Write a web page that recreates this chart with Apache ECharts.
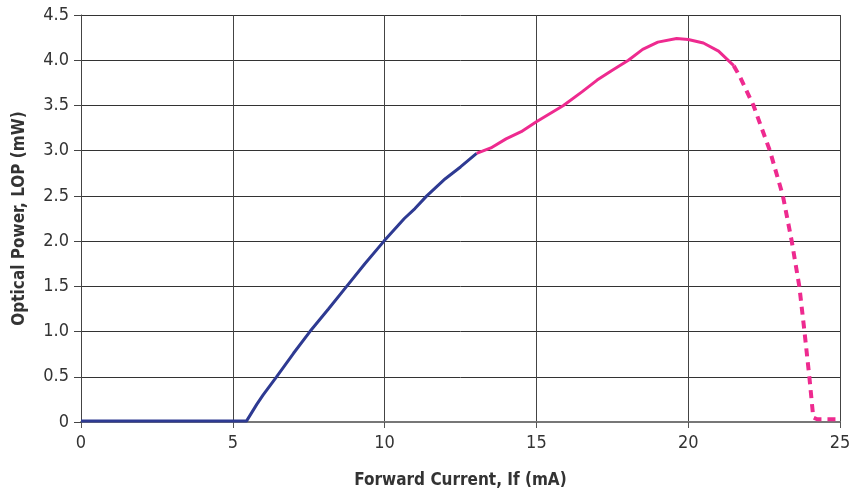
<!DOCTYPE html>
<html>
<head>
<meta charset="utf-8">
<script src="https://cdn.jsdelivr.net/npm/echarts@6/dist/echarts.min.js"></script>
<style>
  html, body { margin: 0; padding: 0; background: #fff; }
  #chart { width: 851px; height: 497px; }
</style>
</head>
<body>
<div id="chart"></div>
<script>
// data: [current mA, power mW]
const blueCurve = [
  [0, 0.01], [5.45, 0.01], [5.8, 0.2], [6.0, 0.3], [6.44, 0.5], [7.0, 0.76],
  [7.54, 1.0], [8.15, 1.25], [8.75, 1.5], [9.35, 1.75], [9.98, 2.0],
  [10.65, 2.25], [11.0, 2.36], [11.39, 2.5], [12.0, 2.69], [12.5, 2.82], [13.03, 2.97]
];
const pinkSolid = [
  [13.03, 2.97], [13.5, 3.03], [14.0, 3.13], [14.5, 3.21], [15.0, 3.32],
  [15.89, 3.5], [16.5, 3.65], [17.0, 3.78], [17.5, 3.89], [18.03, 4.0],
  [18.5, 4.12], [19.0, 4.2], [19.62, 4.24], [20.0, 4.23], [20.5, 4.19],
  [21.0, 4.1], [21.5, 3.94]
];
const pinkDashed = [
  [21.5, 3.94], [21.7, 3.82], [22.15, 3.5], [22.69, 3.0], [23.12, 2.5],
  [23.41, 2.0], [23.66, 1.5], [23.83, 1.0], [23.99, 0.5], [24.12, 0.05],
  [24.25, 0.03], [25.0, 0.03]
];
const xTicks = [0, 25, 5];   // min, max, step
const yTicks = [0, 4.5, 0.5];

const font = "'Liberation Sans Narrow', 'DejaVu Sans Condensed', sans-serif";

const chart = echarts.init(document.getElementById('chart'));
chart.setOption({
  animation: false,
  grid: { left: 81, right: 11, top: 15, bottom: 75, outerBoundsMode: 'none', containLabel: false },
  xAxis: {
    type: 'value',
    min: xTicks[0], max: xTicks[1], interval: xTicks[2],
    name: 'Forward Current, If (mA)',
    nameLocation: 'middle',
    nameGap: 50,
    nameTextStyle: { fontFamily: font, fontSize: 17, fontWeight: 'bold', color: '#333' },
    axisLine: { onZero: false, lineStyle: { color: '#777', width: 2 } },
    axisTick: { show: true, length: 6, lineStyle: { color: '#555' } },
    axisLabel: { fontFamily: font, fontSize: 18, color: '#333', margin: 12 },
    splitLine: { show: true, lineStyle: { color: '#444', width: 1 } }
  },
  yAxis: {
    type: 'value',
    min: yTicks[0], max: yTicks[1], interval: yTicks[2],
    name: 'Optical Power, LOP (mW)',
    nameLocation: 'middle',
    nameGap: 53,
    nameTextStyle: { fontFamily: font, fontSize: 17, fontWeight: 'bold', color: '#333' },
    axisLine: { show: true, lineStyle: { color: '#444', width: 1 } },
    axisTick: { show: true, length: 7, lineStyle: { color: '#444' } },
    axisLabel: {
      fontFamily: font, fontSize: 18, color: '#333', margin: 12,
      formatter: v => v === 0 ? '0' : v.toFixed(1)
    },
    splitLine: { show: true, lineStyle: { color: '#333', width: 1 } }
  },
  series: [
    {
      type: 'line', data: blueCurve, symbol: 'none',
      lineStyle: { color: '#2E3A92', width: 3 }
    },
    {
      type: 'line', data: pinkSolid, symbol: 'none',
      lineStyle: { color: '#EE2A8F', width: 3 }
    },
    {
      type: 'line', data: pinkDashed, symbol: 'none',
      lineStyle: { color: '#EE2A8F', width: 4, type: [8, 6] }
    }
  ]
});
</script>
</body>
</html>
